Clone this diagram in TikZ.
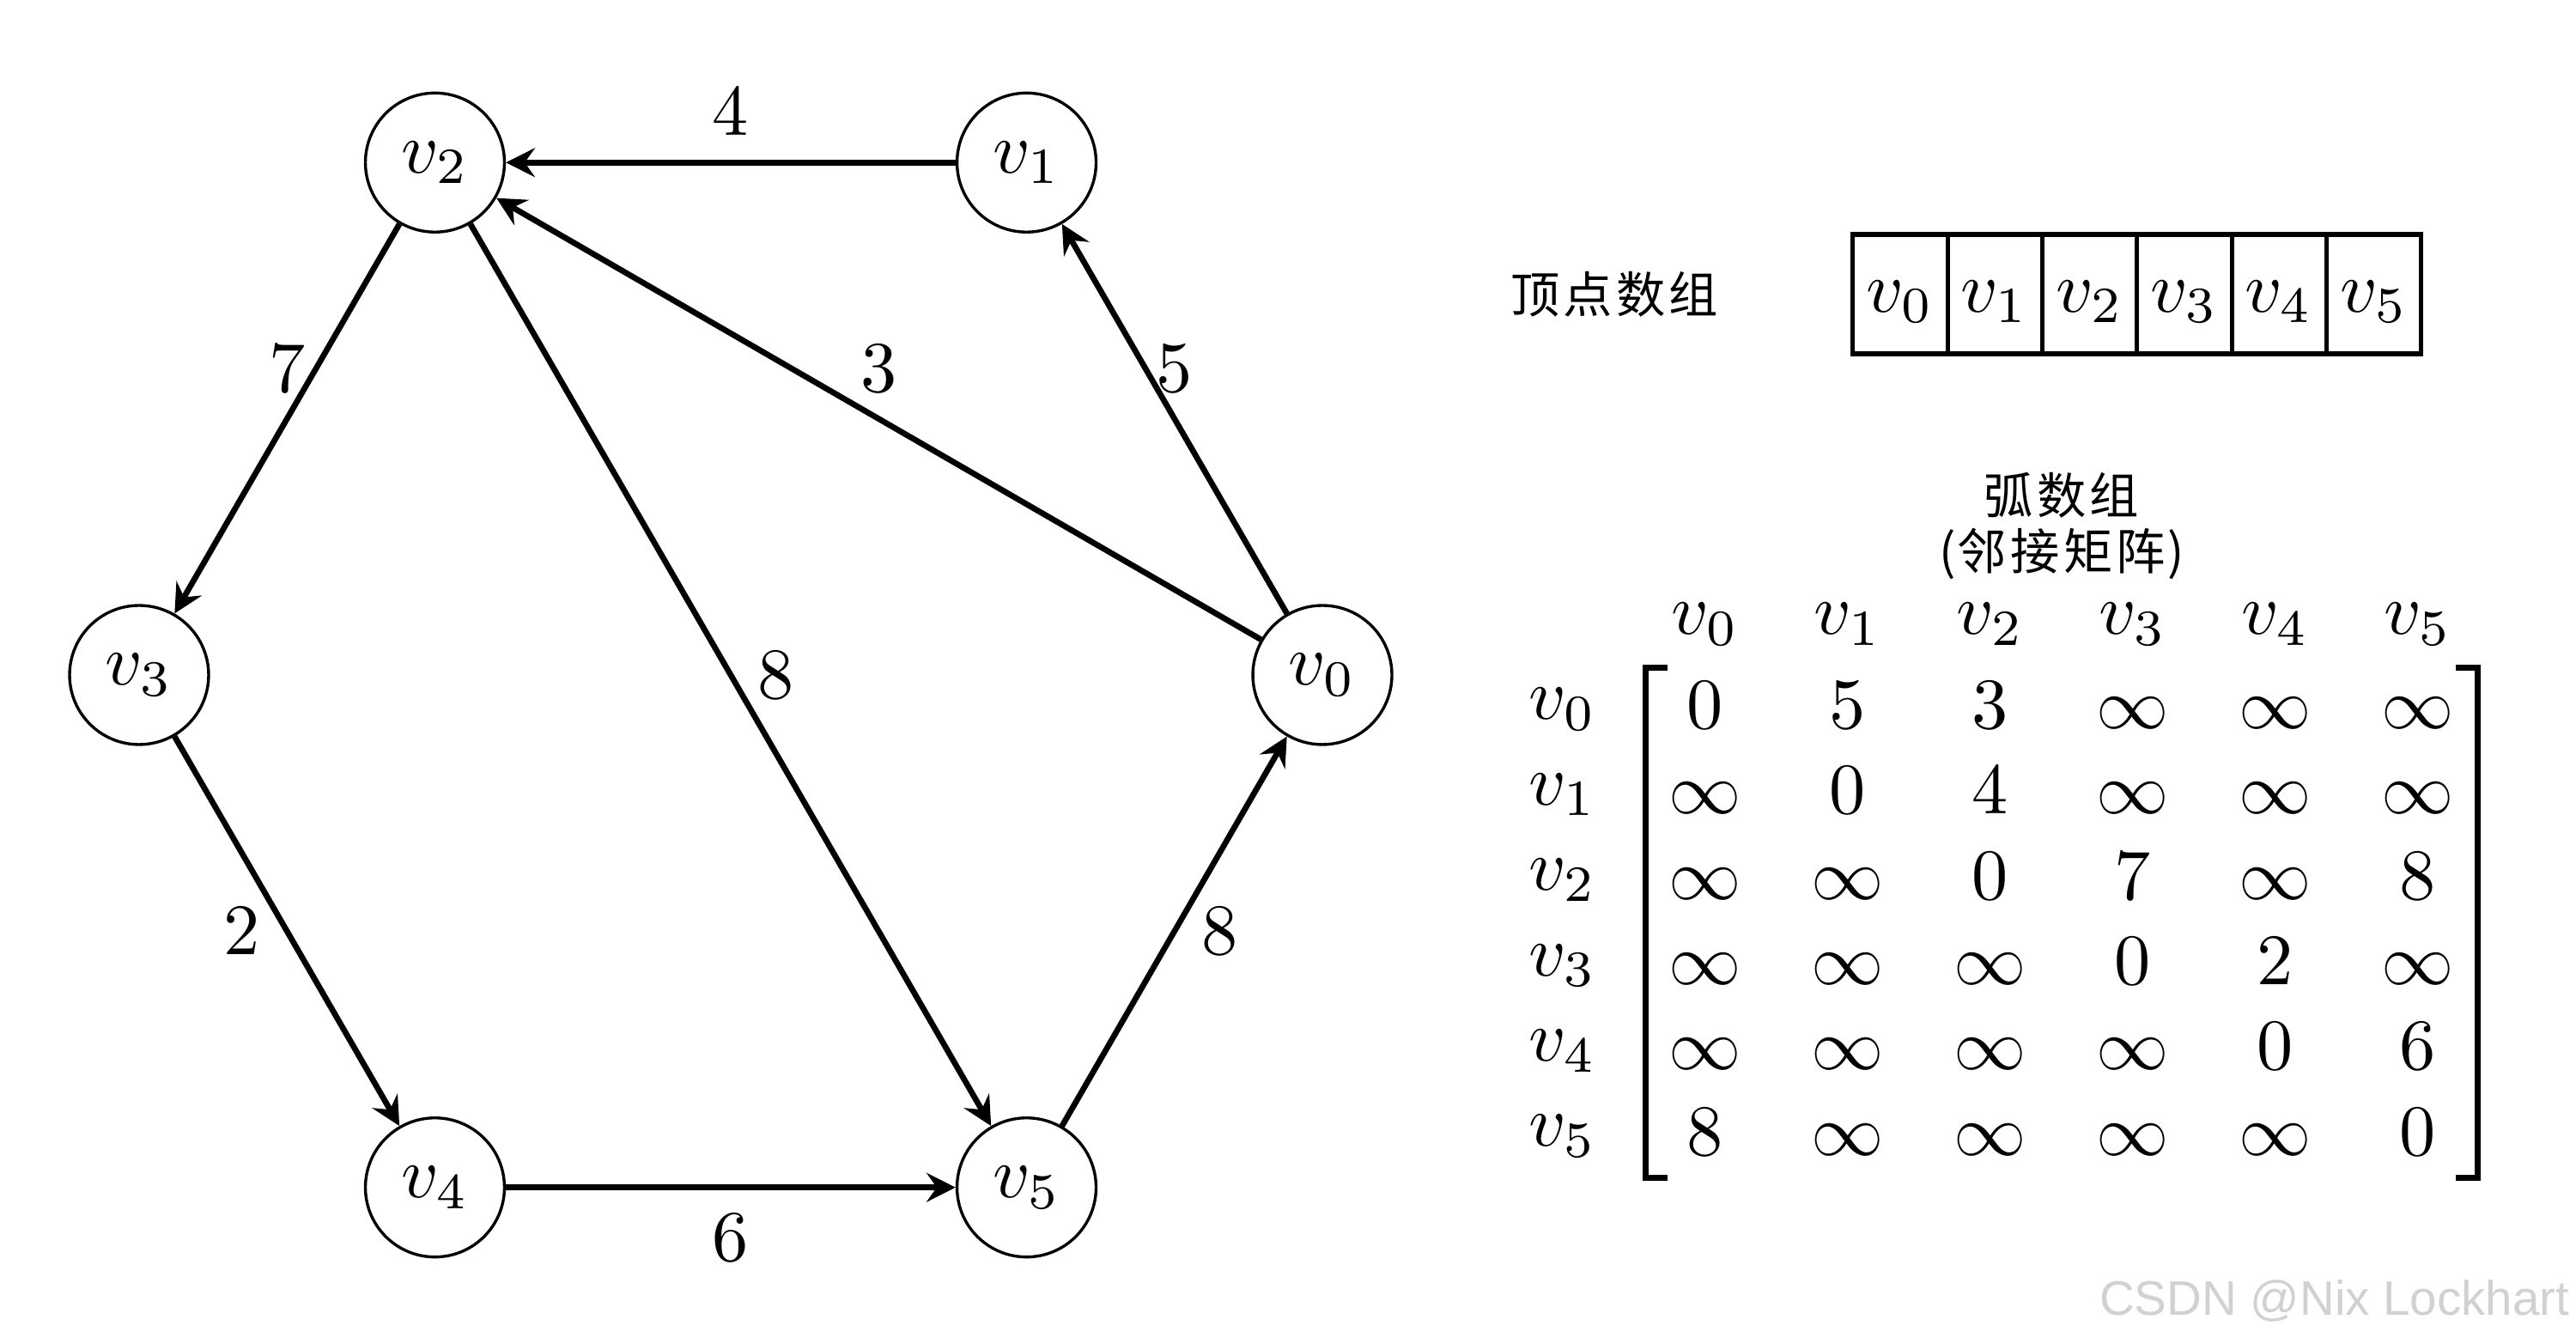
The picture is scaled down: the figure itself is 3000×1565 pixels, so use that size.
\documentclass[tikz,border=0pt]{standalone}
\usepackage{fontspec}
\newfontfamily\cjk{Noto Sans CJK SC}
\newfontfamily\wmfont{Liberation Sans}
\usetikzlibrary{arrows.meta,calc,matrix}
\newcommand\cjkbox[1]{\makebox[7.3pt]{#1}}
\begin{document}
\begin{tikzpicture}[x=0.0416667mm, y=-0.0416667mm,
  vertex/.style={circle, draw, thin, minimum size=19.2pt, inner sep=0pt},
  edge/.style={thick, -{Stealth[length=4pt,width=4pt,inset=1.4pt]}},
  cell/.style={draw, semithick, minimum width=13.07pt, minimum height=16.48pt, inner sep=0pt, text height=6.5pt, text depth=1.6pt},
  cjklabel/.style={font=\cjk\fontsize{6.8pt}{8pt}\selectfont, inner sep=0pt},
  bracket/.style={thick, line join=miter}
]
\useasboundingbox (0,0) rectangle (3000,1565);

% graph vertices
\node[vertex] (v0) at (1540,786)    {$v_0$};
\node[vertex] (v1) at (1195.5,189.3) {$v_1$};
\node[vertex] (v2) at (506.5,189.3)  {$v_2$};
\node[vertex] (v3) at (162,786)     {$v_3$};
\node[vertex] (v4) at (506.5,1382.7) {$v_4$};
\node[vertex] (v5) at (1195.5,1382.7) {$v_5$};

% arcs
\draw[edge] (v1) -- node[midway, above] (l4) {$4$} (v2);
\draw[edge] (v0) -- node[midway, above] (l3) {$3$} (v2);
\draw[edge] (v0) -- node[midway, above] (l5) {$5$} (v1);
\draw[edge] (v2) -- node[midway, above] (l7) {$7$} (v3);
\draw[edge] (v2) -- node[midway, right] (l8a) {$8$} (v5);
\draw[edge] (v3) -- node[midway, left] (l2) {$2$} (v4);
\draw[edge] (v4) -- node[midway, below] (l6) {$6$} (v5);
\draw[edge] (v5) -- node[midway, right] (l8b) {$8$} (v0);

% vertex array
\node[cjklabel] (vtitle) at (1880,343) {\cjkbox{顶}\cjkbox{点}\cjkbox{数}\cjkbox{组}};
\foreach \i in {0,...,5}
  \node[cell] (A\i) at ({2213+110.3*\i},342.5) {$v_{\i}$};

% arc array title
\node[cjklabel] (atitle) at (2401,577) {\cjkbox{弧}\cjkbox{数}\cjkbox{组}};
\node[cjklabel] (asub) at (2401,645) {(\cjkbox{邻}\cjkbox{接}\cjkbox{矩}\cjkbox{阵})};

% adjacency matrix
\matrix (M) at (2318,1019.8) [matrix of math nodes,
  column sep=0pt, row sep=0pt,
  nodes={minimum width=19.68pt, minimum height=11.78pt, inner sep=0pt, anchor=center, text height=6.5pt, text depth=0pt},
  row 1/.style={nodes={text height=5.6pt, text depth=1.6pt}},
  column 1/.style={nodes={text height=5.6pt, text depth=1.6pt}}]
{
      & v_0    & v_1    & v_2    & v_3    & v_4    & v_5    \\
  v_0 & 0      & 5      & 3      & \infty & \infty & \infty \\
  v_1 & \infty & 0      & 4      & \infty & \infty & \infty \\
  v_2 & \infty & \infty & 0      & 7      & \infty & 8      \\
  v_3 & \infty & \infty & \infty & 0      & 2      & \infty \\
  v_4 & \infty & \infty & \infty & \infty & 0      & 6      \\
  v_5 & 8      & \infty & \infty & \infty & \infty & 0      \\
};
\draw[bracket] ($(M-2-2.north west)+(41,8)$) -- ($(M-2-2.north west)+(15,8)$)
  -- ($(M-7-2.south west)+(15,2)$) -- ($(M-7-2.south west)+(41,2)$);
\draw[bracket] ($(M-2-7.north east)+(-41,8)$) -- ($(M-2-7.north east)+(-15,8)$)
  -- ($(M-7-7.south east)+(-15,2)$) -- ($(M-7-7.south east)+(-41,2)$);

% watermark
\node[anchor=east, inner sep=0pt, text=black!18, font=\wmfont\fontsize{6.7pt}{8pt}\selectfont] (wm) at (2994,1515) {CSDN @Nix Lockhart};
\end{tikzpicture}
\end{document}
